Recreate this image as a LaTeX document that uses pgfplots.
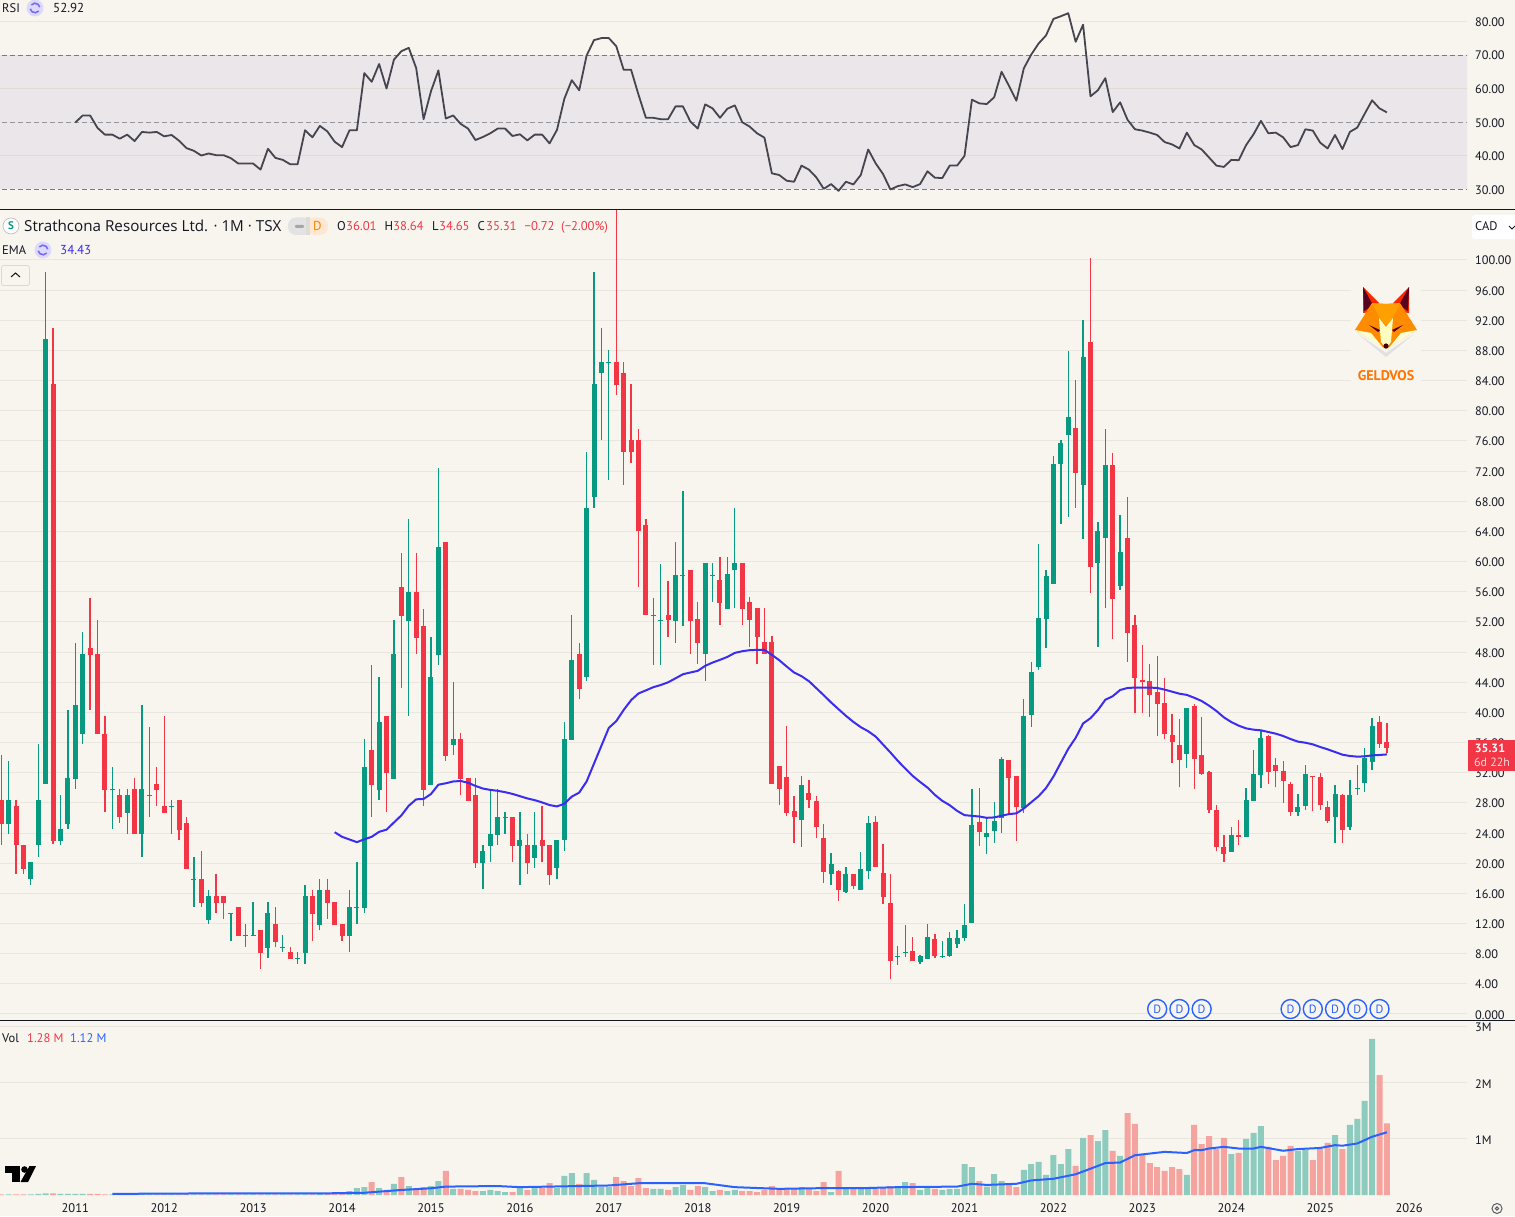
\documentclass[border=0pt]{standalone}
\usepackage{pgfplots}
\usepackage{pgfplotstable}
\usepackage{fontspec}
\pgfplotsset{compat=1.18}
\setmainfont{PT Sans}
\newfontfamily\titlefont{Open Sans}
\definecolor{bg}{HTML}{F8F5EE}
\definecolor{gridc}{HTML}{E9E6DF}
\definecolor{band}{HTML}{EBE6EA}
\definecolor{upc}{HTML}{089981}
\definecolor{dnc}{HTML}{F23645}
\definecolor{upv}{HTML}{8DCBBF}
\definecolor{dnv}{HTML}{F5A39F}
\definecolor{emac}{HTML}{3A2DF0}
\definecolor{vemac}{HTML}{2962FF}
\definecolor{rsic}{HTML}{45454F}
\definecolor{dashc}{HTML}{787B86}
\definecolor{txt}{HTML}{131722}
\pgfplotstableread{
x o h l c
-9 25.18 33.54 23.9 28.33
-6 17.85 20.17 17.08 20.17
-5 22.35 35.79 20.81 28.33
-4 30.45 98.41 30.45 89.53
-2 22.93 29.04 22.42 24.54
-1 25.18 40.28 24.54 31.29
0 31.16 49.22 29.81 40.99
1 37.2 50.63 35.79 47.75
5 29.68 32.7 24.54 29.81
7 26.66 29.81 23.9 29.04
9 23.83 40.99 20.81 29.81
10 28.91 38.03 26.15 29.04
13 27.43 28.33 23.9 27.56
16 17.79 20.81 14.19 17.92
18 12.45 16.44 11.93 15.67
21 13.29 13.42 9.68 13.42
23 10.3 11.94 8.86 10.42
24 10.3 14.83 10.3 10.42
26 8.77 14.83 7.44 13.41
28 8.75 10.47 8.2 8.86
30 7.28 8.2 6.64 7.39
31 8.1 17.1 6.64 15.63
33 11.8 17.91 11.13 16.44
37 10.33 16.44 8.2 14.17
38 14.07 20.14 11.94 14.17
39 14.07 36.48 13.41 32.73
41 29.7 44.67 28.38 38.71
43 31.17 52.25 31.17 47.75
45 52.11 65.66 39.51 55.95
48 30.37 49.98 30.37 44.67
49 47.61 72.43 46.28 61.92
51 35.67 44.01 34.35 36.48
55 20.07 22.44 16.52 21.61
56 22.32 29.78 20.19 23.86
57 23.8 29.78 22.44 26.11
58 26.0 26.82 23.86 26.11
60 22.32 26.82 17.11 23.09
62 20.72 26.82 19.36 22.44
65 19.3 23.09 17.88 23.09
66 23.03 38.72 21.61 36.47
67 36.35 52.93 36.35 46.95
69 44.64 74.54 44.11 67.08
70 68.5 98.4 67.08 83.54
71 84.96 91.0 76.14 86.5
72 86.3 88.04 70.81 86.44
78 52.8 55.18 46.3 52.93
79 52.1 59.68 46.3 52.22
81 52.16 62.58 49.2 58.2
82 58.1 69.39 51.45 58.2
85 47.72 59.79 44.18 59.79
86 58.15 59.79 54.61 58.28
88 53.68 60.58 53.68 58.33
89 58.86 67.17 53.82 59.79
98 25.7 31.54 22.12 30.34
102 18.54 21.32 17.08 19.87
104 16.15 19.47 16.02 18.54
106 16.42 21.46 16.42 19.2
107 18.94 26.23 17.88 25.3
111 7.62 8.99 6.47 7.75
112 8.15 11.78 7.53 8.28
114 6.87 7.8 6.6 7.66
115 7.27 11.91 7.27 10.18
117 7.62 9.65 7.4 7.75
118 7.66 10.85 7.53 10.05
119 9.26 11.11 8.72 10.05
120 10.05 14.56 9.65 11.78
121 12.04 29.81 12.04 25.04
123 23.47 26.07 21.2 24.01
124 24.29 28.13 22.71 25.59
125 25.96 34.03 24.01 33.81
128 27.26 41.77 26.72 39.5
129 39.66 46.7 38.09 45.35
130 45.96 62.35 45.67 52.49
131 52.38 58.88 48.54 58.07
132 57.04 73.99 57.04 72.96
133 72.96 76.15 65.0 75.72
134 76.8 87.96 65.92 79.19
136 70.14 92.07 63.0 87.14
138 59.8 65.27 48.7 64.08
139 63.11 77.56 53.85 72.8
141 56.77 66.19 56.28 61.26
150 34.46 40.58 32.62 40.58
156 21.48 24.8 21.48 23.74
158 23.47 29.97 23.47 28.38
159 28.25 35.01 28.25 31.83
160 31.7 37.66 29.97 36.6
165 26.79 29.18 26.26 27.45
166 27.58 33.02 27.05 31.83
170 26.13 30.37 22.68 29.18
172 24.8 31.03 24.4 29.04
173 29.85 33.02 29.04 29.97
174 30.63 35.28 29.44 33.95
175 33.42 39.25 32.36 38.19
}\upT
\pgfplotstableread{
x o h l c
-10 28.33 34.37 22.42 25.18
-8 27.56 28.33 18.56 22.35
-7 22.35 22.35 18.56 19.2
-3 83.55 91.0 22.48 22.93
2 48.52 55.13 40.28 47.62
3 47.75 52.24 37.2 37.2
4 37.2 39.51 26.79 29.75
6 29.04 29.81 25.31 26.08
8 29.81 31.29 23.83 23.83
11 30.52 32.77 27.56 29.75
12 27.56 39.51 26.66 26.66
14 28.33 28.33 23.06 24.41
15 25.31 26.08 19.2 19.2
17 17.92 21.64 14.19 14.7
19 15.67 18.56 13.42 14.7
20 15.67 15.67 12.58 14.7
22 14.17 14.17 10.33 10.33
25 11.13 11.13 5.97 8.1
27 11.94 14.17 8.86 9.53
29 8.2 8.86 7.3 7.3
32 15.63 16.44 9.72 13.27
34 16.44 17.91 12.6 14.73
35 14.83 14.83 11.8 11.8
36 11.94 11.94 9.67 10.33
40 35.01 46.28 26.1 30.37
42 39.51 39.51 26.77 31.98
44 56.61 61.16 43.25 52.82
46 55.95 61.16 47.75 49.88
47 51.45 53.72 27.57 29.7
50 62.58 62.58 33.54 34.2
52 36.48 37.28 29.04 31.17
53 31.32 31.32 28.3 28.3
54 29.07 31.32 19.42 20.07
59 26.11 26.11 20.19 22.32
61 22.44 23.86 18.59 20.07
63 23.09 27.59 20.19 22.32
64 22.44 22.44 17.11 18.41
68 47.72 49.2 41.8 43.16
73 86.5 110 82.12 83.48
74 85.02 86.5 70.22 74.48
75 76.14 83.54 73.06 74.48
76 76.14 77.56 56.66 64.12
77 64.83 65.66 52.87 52.87
80 52.93 57.49 50.03 52.22
83 58.91 58.91 47.72 52.16
84 52.36 54.61 46.39 49.18
87 57.53 60.58 51.56 54.48
90 59.79 59.79 51.56 53.68
91 54.61 55.28 48.65 52.23
92 53.82 53.82 46.39 49.97
93 49.31 53.82 47.72 47.72
94 49.31 50.1 30.48 30.48
95 32.86 32.86 27.69 29.81
96 31.4 38.17 26.23 26.63
97 26.89 28.88 22.65 26.1
99 29.28 31.01 27.29 28.35
100 28.22 28.88 23.31 24.77
101 23.31 25.17 17.35 18.8
103 18.94 19.07 14.96 16.42
105 18.54 18.54 16.55 16.95
108 25.44 26.23 19.47 19.47
109 18.67 22.52 14.56 15.49
110 14.69 18.54 4.61 7.0
113 8.33 10.18 7.0 7.0
116 9.92 10.58 7.4 7.66
122 25.44 29.94 22.25 24.11
126 33.71 33.71 26.72 31.27
127 31.54 31.54 22.93 27.43
135 77.72 84.11 67.11 71.77
137 89.15 100.25 55.85 59.26
140 72.8 74.42 49.73 55.04
142 63.11 68.57 46.7 50.54
143 51.57 52.93 39.93 44.54
144 44.32 48.92 39.93 44.05
145 44.16 46.43 39.39 42.32
146 42.69 47.46 36.85 41.12
147 41.23 44.54 36.47 37.12
148 37.01 39.77 33.27 36.09
149 35.66 39.12 30.08 33.71
151 40.85 41.07 29.84 33.86
152 34.35 39.39 31.74 31.83
153 32.09 32.23 26.7 27.05
154 27.05 27.72 21.66 22.15
155 22.15 23.74 20.16 21.22
157 23.74 25.73 22.41 23.47
161 36.87 37.0 30.5 32.09
162 33.02 33.95 30.1 32.23
163 32.23 33.55 27.98 30.9
164 30.5 30.77 26.26 26.79
167 31.56 31.56 26.92 31.43
168 31.43 31.96 27.05 27.72
169 27.45 28.25 25.33 25.6
171 29.04 29.18 22.68 24.4
176 38.72 39.52 35.28 35.81
177 36.01 38.64 34.65 35.31
}\dnT
\pgfplotstableread{
x y
35 24.11
36 23.5
38 22.79
39 23.17
40 23.5
41 24.16
42 24.45
43 25.4
44 26.34
45 27.62
46 28.47
47 28.52
48 29.18
49 30.41
50 30.6
51 30.84
52 30.9
53 30.67
54 30.25
55 29.9
56 29.72
57 29.6
58 29.42
59 29.19
60 28.89
61 28.59
62 28.36
63 28.06
64 27.71
65 27.53
66 27.89
67 28.83
68 29.36
69 30.84
70 33.21
71 35.58
72 37.95
73 38.84
74 40.32
75 41.62
76 42.51
77 42.92
78 43.34
79 43.63
80 43.99
81 44.52
82 45.06
83 45.29
84 45.51
85 46.17
86 46.61
87 46.97
88 47.36
89 47.89
90 48.11
91 48.25
92 48.29
93 48.29
94 47.63
95 46.92
96 46.08
97 45.29
98 44.8
99 44.14
100 43.21
101 42.28
102 41.31
103 40.42
104 39.54
105 38.74
106 38.04
107 37.5
108 36.8
109 35.74
110 34.68
111 33.57
112 32.55
113 31.58
114 30.78
115 30.03
116 29.06
117 28.27
118 27.69
119 26.94
120 26.37
121 26.28
122 26.19
123 26.02
124 26.07
125 26.29
126 26.51
127 26.61
128 27.26
129 28.08
130 28.89
131 29.97
132 31.49
133 33.33
134 35.17
135 36.63
136 38.53
137 39.23
138 40.31
139 41.67
140 42.15
141 42.97
142 43.24
143 43.29
144 43.29
145 43.29
146 43.24
147 43.02
148 42.75
149 42.48
150 42.32
151 41.94
152 41.51
153 40.89
154 40.18
155 39.34
156 38.72
157 38.24
158 37.88
159 37.71
160 37.62
161 37.4
162 37.18
163 36.87
164 36.47
165 36.12
166 35.98
167 35.76
168 35.41
169 35.1
170 34.75
171 34.39
172 34.22
173 34.13
174 34.17
175 34.3
176 34.35
177 34.43
}\emaT
\pgfplotstableread{
x y
0 49.9
1 52.0
2 52.0
3 48.3
4 46.3
5 46.3
6 45.1
7 46.3
8 44.4
9 47.1
10 46.9
11 47.1
12 45.8
13 46.2
14 44.5
15 42.3
16 41.5
17 40.1
18 40.7
19 40.2
20 40.2
21 39.3
22 37.7
23 37.7
24 37.7
25 35.9
26 42.1
27 39.4
28 38.8
29 37.5
30 37.5
31 47.6
32 45.5
33 48.9
34 47.3
35 44.2
36 42.6
37 47.6
38 47.6
39 64.6
40 62.0
41 67.3
42 60.0
43 68.6
44 71.1
45 72.1
46 66.1
47 50.9
48 59.2
49 65.4
50 51.1
51 52.0
52 49.5
53 48.1
54 44.7
55 45.6
56 46.7
57 48.1
58 48.1
59 45.9
60 46.4
61 44.6
62 46.3
63 46.3
64 43.7
65 47.7
66 57.0
67 62.5
68 59.5
69 69.8
70 74.4
71 75.0
72 75.0
73 72.6
74 65.6
75 65.6
76 58.2
77 51.3
78 51.3
79 50.9
80 50.9
81 54.7
82 54.7
83 50.2
84 48.1
85 55.3
86 54.1
87 51.3
88 54.0
89 55.0
90 50.0
91 48.7
92 46.7
93 45.4
94 34.8
95 34.3
96 32.6
97 32.3
98 37.1
99 35.9
100 33.6
101 30.2
102 31.6
103 29.6
104 32.3
105 31.5
106 34.3
107 41.9
108 37.8
109 34.6
110 30.0
111 31.0
112 31.5
113 30.7
114 31.6
115 35.4
116 33.5
117 33.4
118 37.1
119 37.1
120 40.0
121 56.7
122 55.6
123 55.4
124 57.4
125 65.0
126 60.8
127 56.4
128 66.0
129 70.1
130 73.4
131 75.8
132 80.7
133 81.5
134 82.4
135 73.9
136 79.0
137 57.7
138 59.5
139 63.1
140 53.0
141 55.9
142 50.7
143 47.9
144 47.5
145 46.9
146 46.2
147 44.1
148 43.4
149 42.2
150 46.9
151 43.2
152 41.9
153 39.5
154 37.1
155 36.7
156 38.8
157 38.7
158 43.2
159 46.4
160 50.4
161 46.7
162 46.9
163 45.5
164 42.6
165 43.2
166 47.9
167 47.5
168 43.9
169 42.2
170 46.2
171 42.0
172 47.1
173 48.4
174 52.5
175 56.5
176 54.1
177 52.92
}\rsiT
\pgfplotstableread{
x y
-9 .01
-6 .01
-5 .02
-4 .03
-2 .02
-1 .02
0 .02
1 .02
5 .01
7 .01
9 .02
10 .01
13 .01
16 .01
18 .01
21 .01
23 .01
24 .01
26 .01
28 .01
30 .01
31 .01
33 .02
37 .07
38 .125
39 .14
41 .125
43 .20
45 .16
48 .16
49 .25
51 .11
55 .07
56 .09
57 .07
58 .05
60 .125
62 .125
65 .125
66 .34
67 .39
69 .39
70 .27
71 .14
72 .14
78 .11
79 .11
81 .14
82 .18
85 .14
86 .07
88 .07
89 .09
98 .14
102 .05
104 .125
106 .12
107 .12
111 .14
112 .23
114 .09
115 .15
117 .09
118 .11
119 .11
120 .55
121 .50
123 .15
124 .375
125 .25
128 .45
129 .55
130 .59
131 .36
132 .71
133 .55
134 .82
136 1.02
138 .96
139 1.16
141 .70
150 .36
156 .73
158 1.0
159 1.11
160 1.23
165 .79
166 .80
170 1.07
172 1.25
173 1.36
174 1.68
175 2.79
}\vupT
\pgfplotstableread{
x y
-10 .01
-8 .01
-7 .01
-3 .03
2 .02
3 .02
4 .01
6 .01
8 .01
11 .01
12 .01
14 .01
15 .01
17 .01
19 .01
20 .01
22 .01
25 .01
27 .01
29 .01
32 .01
34 .02
35 .02
36 .02
40 .23
42 .09
44 .32
46 .11
47 .14
50 .43
52 .11
53 .09
54 .07
59 .05
61 .09
63 .125
64 .21
68 .20
73 .32
74 .25
75 .16
76 .30
77 .125
80 .09
83 .09
84 .16
87 .09
90 .07
91 .07
92 .05
93 .09
94 .16
95 .125
96 .11
97 .11
99 .11
100 .07
101 .23
103 .43
105 .125
108 .12
109 .14
110 .16
113 .21
116 .11
122 .25
126 .20
127 .14
135 .52
137 1.07
140 .79
142 1.46
143 1.27
144 .71
145 .57
146 .50
147 .43
148 .50
149 .46
151 1.25
152 .91
153 1.05
154 .82
155 1.02
157 .75
161 .86
162 .625
163 .70
164 .875
167 .625
168 .82
169 .93
171 .82
176 2.14
177 1.28
}\vdnT
\pgfplotstableread{
x y
5 .02
20 .03
34 .03
39 .04
44 .09
48 .12
50 .15
57 .16
60 .14
66 .155
72 .17
76 .21
85 .21
89 .14
95 .11
102 .125
107 .125
111 .14
119 .15
121 .20
123 .18
127 .20
129 .26
132 .29
135 .37
139 .57
141 .58
143 .71
147 .77
150 .75
151 .80
152 .80
153 .83
155 .86
157 .83
159 .83
160 .86
163 .79
165 .82
168 .84
170 .89
171 .88
173 .92
175 1.04
177 1.12
}\vemaT
\pgfplotsset{base/.style={scale only axis, width=1467pt, xmin=-10.162, xmax=187.81,
  axis line style={draw=none}, tick style={draw=none}, major tick length=0pt,
  xtick=\empty, clip=true,
  yticklabel pos=right,
  yticklabel style={anchor=west,xshift=8pt,yshift=-.7pt,font=\fontsize{12.3}{14}\selectfont,text=txt,inner sep=0pt},
  grid style={color=gridc,line width=1pt}}}
\newcommand{\Tx}[4][txt]{\node[anchor=base west,inner sep=0pt,text=#1,font=\fontsize{#2}{#2}\selectfont] at #3 {#4};}
\newcommand{\icon}[1]{%
  \fill[color=emac!18] #1 circle (8.5);
  \draw[color=emac!70,line width=1.6pt] #1 ++(40:4.8) arc (40:170:4.8);
  \draw[color=emac!70,line width=1.6pt] #1 ++(220:4.8) arc (220:350:4.8);}
\begin{document}
\begin{tikzpicture}[x=1pt,y=1pt]
\path[use as bounding box] (0pt,0pt) rectangle (1515pt,1216pt);
\fill[bg] (0pt,0pt) rectangle (1515pt,1216pt);
% RSI
\begin{axis}[base, at={(0pt,1007pt)}, anchor=south west, height=209pt,
  ymin=24.2, ymax=86.33, ytick={30,40,50,60,70,80},
  yticklabels={30.00,40.00,50.00,60.00,70.00,80.00}]
\addplot[draw=none,fill=band,forget plot] coordinates {(-11,30)(188,30)(188,70)(-11,70)} --cycle;
\addplot[color=gridc,line width=1pt,forget plot] coordinates {(-11,80)(188,80)};
\addplot[color=gridc!90!gray,line width=1pt,forget plot] coordinates {(-11,60)(188,60)};
\addplot[color=gridc!90!gray,line width=1pt,forget plot] coordinates {(-11,40)(188,40)};
\addplot[color=dashc,line width=.8pt,dash pattern=on 5pt off 3pt,forget plot] coordinates {(-11,70)(188,70)};
\addplot[color=dashc!80,line width=.8pt,dash pattern=on 5pt off 3pt,forget plot] coordinates {(-11,50)(188,50)};
\addplot[color=dashc,line width=.8pt,dash pattern=on 5pt off 3pt,forget plot] coordinates {(-11,30)(188,30)};
\addplot[color=rsic,line width=1.8pt,mark=none,line join=round] table[x=x,y=y] {\rsiT};
\end{axis}
% main
\begin{axis}[base, at={(0pt,196pt)}, anchor=south west, height=810pt,
  ymin=-0.796, ymax=106.63, ymajorgrids,
  ytick={0,4,...,100},
  yticklabels={0.000,4.00,8.00,12.00,16.00,20.00,24.00,28.00,32.00,36.00,40.00,44.00,48.00,52.00,56.00,60.00,64.00,68.00,72.00,76.00,80.00,84.00,88.00,92.00,96.00,100.00}]
\addplot[draw=none,mark=none,forget plot,error bars/.cd,y dir=minus,y explicit,error mark=none,error bar style={line width=1.3pt,color=upc}] table[x=x,y=h,y error expr=\thisrow{h}-\thisrow{l}] {\upT};
\addplot[draw=none,mark=none,forget plot,error bars/.cd,y dir=minus,y explicit,error mark=none,error bar style={line width=1.3pt,color=dnc}] table[x=x,y=h,y error expr=\thisrow{h}-\thisrow{l}] {\dnT};
\addplot[draw=none,mark=none,forget plot,error bars/.cd,y dir=minus,y explicit,error mark=none,error bar style={line width=5pt,color=upc}] table[x=x,y=c,y error expr=\thisrow{c}-\thisrow{o}] {\upT};
\addplot[draw=none,mark=none,forget plot,error bars/.cd,y dir=minus,y explicit,error mark=none,error bar style={line width=5pt,color=dnc}] table[x=x,y=o,y error expr=\thisrow{o}-\thisrow{c}] {\dnT};
\addplot[color=emac,line width=2pt,mark=none,line join=round] table[x=x,y=y] {\emaT};
\addplot[only marks,mark=*,mark size=9.5pt,mark options={fill=bg,draw=vemac,line width=1.4pt},
  nodes near coords={D},every node near coord/.style={anchor=center,inner sep=0pt,text=vemac,font=\fontsize{12}{12}\selectfont}]
  coordinates {(146,.66)(149,.66)(152,.66)(164,.66)(167,.66)(170,.66)(173,.66)(176,.66)};
\end{axis}
% volume
\begin{axis}[base, at={(0pt,21pt)}, anchor=south west, height=174pt,
  ymin=0, ymax=3.107, ymajorgrids, ytick={1,2,3}, yticklabels={1M,2M,3M},
  xtick={0,12,...,180},
  xticklabels={2011,2012,2013,2014,2015,2016,2017,2018,2019,2020,2021,2022,2023,2024,2025,2026},
  xticklabel style={font=\fontsize{12.5}{14}\selectfont,text=txt,yshift=-5pt}]
\addplot[ybar,bar width=6pt,bar shift=0pt,fill=upv,draw=none,forget plot] table[x=x,y=y] {\vupT};
\addplot[ybar,bar width=6pt,bar shift=0pt,fill=dnv,draw=none,forget plot] table[x=x,y=y] {\vdnT};
\addplot[color=vemac,line width=2pt,mark=none,line join=round] table[x=x,y=y] {\vemaT};
\end{axis}
% chrome in pixel coordinates
\begin{scope}[x=1pt,y=-1pt,yshift=1216pt]
\draw[color=txt,line width=1pt] (0,209.5)--(1515,209.5);
\draw[color=txt,line width=1pt] (0,1020.5)--(1515,1020.5);
% RSI header
\Tx{12.5}{(2,12.5)}{RSI}
\icon{(35,8)}
\Tx{13}{(53,12.5)}{52.92}
% main header
\fill[white] (11,226) circle (8);
\draw[color=gray!50,line width=.7pt] (11,226) circle (8);
\node[text=upc,inner sep=0pt,font=\bfseries\fontsize{11}{11}\selectfont] at (11,226) {S};
\node[anchor=base west,inner sep=0pt,text=txt,font=\titlefont\fontsize{15.2}{16}\selectfont] at (24,231.5) {Strathcona Resources Ltd. · 1M · TSX};
\fill[color=gray!22,rounded corners=8pt] (288,217.5) rectangle (312,235);
\fill[color=orange!18,rounded corners=8pt] (306,217.5) rectangle (328,235);
\fill[color=gridc!90!gray] (306,217.5) rectangle (310,235);
\fill[color=gray!70,rounded corners=1pt] (295,225) rectangle (304,228);
\Tx[orange]{13}{(313,231)}{D}
\Tx{12.7}{(337,231)}{O}
\Tx[dnc]{12.7}{(346,231)}{36.01}
\Tx{12.7}{(384.5,231)}{H}
\Tx[dnc]{12.7}{(393,231)}{38.64}
\Tx{12.7}{(432,231)}{L}
\Tx[dnc]{12.7}{(439,231)}{34.65}
\Tx{12.7}{(477.5,231)}{C}
\Tx[dnc]{12.7}{(486,231)}{35.31}
\Tx[dnc]{12.7}{(524.5,231)}{−0.72}
\Tx[dnc]{12.7}{(561,231)}{(−2.00\%)}
\Tx{12.5}{(2,254.5)}{EMA}
\icon{(43,250)}
\Tx[emac]{13}{(60,254.5)}{34.43}
\draw[color=gray!30,line width=.8pt,rounded corners=2pt,fill=bg] (1.5,265.5) rectangle (29.5,285.5);
\draw[color=txt,line width=1pt] (11,277)--(15.5,273)--(20,277);
% CAD
\fill[white,rounded corners=3pt] (1472,215) rectangle (1520,239);
\Tx{12.5}{(1475,231)}{CAD}
\draw[color=txt,line width=.9pt] (1509,226)--(1512,229)--(1515,226);
% price label
\fill[dnc] (1468,740) rectangle (1515,771);
\node[anchor=base,inner sep=0pt,text=white,font=\bfseries\fontsize{12}{12}\selectfont] at (1490,753) {35.31};
\node[anchor=base,inner sep=0pt,text=white!80!dnc,font=\fontsize{12}{12}\selectfont] at (1492,767) {6d 22h};
% volume header
\Tx{12.5}{(2,1042.5)}{Vol}
\Tx[dnc]{12.5}{(27,1042.5)}{1.28 M}
\Tx[vemac]{12.5}{(70,1042.5)}{1.12 M}
% TV logo
\fill[black] (5,1166) rectangle (20,1172.5);
\fill[black] (12,1172.5) rectangle (20,1182);
\fill[black] (24.5,1169.5) circle (3.3);
\fill[black] (29.5,1166)--(36,1166)--(28,1182)--(20.5,1182)--cycle;
% gear
\draw[color=txt!70,line width=1pt] (1497,1208.5) circle (5);
\draw[color=txt!70,line width=1pt] (1497,1208.5) circle (1.6);
% fox logo
\fill[bg] (1351,270) rectangle (1421,390);
\fill[color=black!12] (1358,334)--(1386,353)--(1414,334)--(1386,357)--cycle;
\fill[color=red!70!orange] (1363,287)--(1379,303)--(1372,312)--(1363,313)--cycle;
\fill[color=red!70!orange] (1409,287)--(1393,303)--(1400,312)--(1409,313)--cycle;
\fill[color=black!55!purple] (1363,287)--(1373,305)--(1364,311)--cycle;
\fill[color=black!55!purple] (1409,287)--(1399,305)--(1408,311)--cycle;
\fill[color=orange!90!yellow] (1386,304)--(1372,303)--(1355,330)--(1386,349)--(1417,330)--(1400,303)--cycle;
\fill[color=orange!75!yellow] (1386,304)--(1372,303)--(1380,319)--(1386,325)--(1392,319)--(1400,303)--cycle;
\fill[color=yellow!18!white] (1355,330)--(1371,333)--(1384,349)--(1386,349.5)--cycle;
\fill[color=yellow!18!white] (1417,330)--(1401,333)--(1388,349)--(1386,349.5)--cycle;
\fill[color=yellow!25!white] (1379,318)--(1386,327)--(1393,318)--(1391,342)--(1386,349)--(1381,342)--cycle;
\fill[color=black!55!purple] (1369,325)--(1380,330)--(1378,332)--cycle;
\fill[color=black!55!purple] (1403,325)--(1392,330)--(1394,332)--cycle;
\fill[color=black!65!purple] (1386,346) circle (2.6);
\node[anchor=base,inner sep=0pt,text=orange!90!red,font=\bfseries\fontsize{14}{14}\selectfont] at (1386,381) {GELDVOS};
\end{scope}
\end{tikzpicture}
\end{document}
